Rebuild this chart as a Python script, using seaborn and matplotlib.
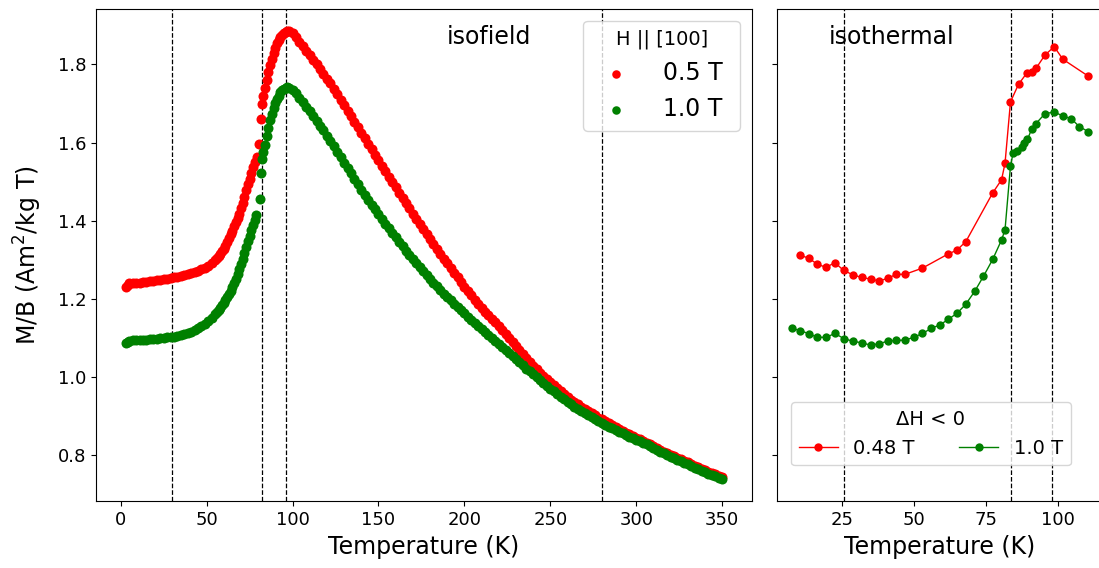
import matplotlib
matplotlib.use("Agg")
import matplotlib.pyplot as plt
import seaborn as sns
import pandas as pd

# ---------------- isofield data (left panel) ----------------
# temperatures shared by both isofield curves (low-T and high-T parts)
T_low = [3, 4, 5, 7, 9, 11, 13, 15, 17, 19, 21, 23, 25, 27, 29, 31, 33, 35, 37, 39,
         41, 43, 45, 47, 49, 51, 53]
T_high = [98, 100, 102, 104, 106, 108, 110, 112, 114, 116,
          118, 120, 122, 124, 126, 128, 130, 132, 134, 136,
          138, 140, 142, 144, 146, 148, 150, 152, 154, 156,
          158, 160, 162, 164, 166, 168, 170, 172, 174, 176,
          178, 180, 182, 184, 186, 188, 190, 192, 194, 196,
          198, 200, 202, 204, 206, 208, 210, 212, 214, 216,
          218, 220, 222, 224, 226, 228, 230, 232, 234, 236,
          238, 240, 242, 244, 246, 248, 250, 252, 254, 256,
          258, 260, 262, 264, 266, 268, 270, 272, 274, 276,
          278, 280, 282, 284, 286, 288, 290, 292, 294, 296,
          298, 300, 302, 304, 306, 308, 310, 312, 314, 316,
          318, 320, 322, 324, 326, 328, 330, 332, 334, 336,
          338, 340, 342, 344, 346, 348, 350]

# 0.5 T
M05_low = [1.231, 1.236, 1.240, 1.241, 1.242, 1.242, 1.243, 1.244, 1.245, 1.246,
           1.248, 1.249, 1.251, 1.252, 1.254, 1.256, 1.257, 1.259, 1.261, 1.263,
           1.266, 1.268, 1.272, 1.276, 1.280, 1.285, 1.291]
T05_mid = [55, 56, 57, 58, 59, 60, 61, 62, 63, 64, 65, 66, 67, 68, 69, 70, 71, 72, 73, 74,
           75, 76, 77, 78, 79.4, 80.5, 81.9, 82.1, 82.9, 84, 85, 86, 87, 88, 89, 90, 91,
           92, 93, 94, 95, 96, 97]
M05_mid = [1.300, 1.305, 1.311, 1.316, 1.322, 1.329, 1.336, 1.345, 1.355, 1.365,
           1.375, 1.386, 1.397, 1.407, 1.418, 1.432, 1.446, 1.462, 1.478, 1.493,
           1.508, 1.523, 1.538, 1.550, 1.563, 1.597, 1.660, 1.698, 1.719,
           1.740, 1.760, 1.780, 1.798, 1.814, 1.830, 1.843, 1.854, 1.863, 1.870,
           1.876, 1.880, 1.883, 1.885]
M05_high = [1.884, 1.879, 1.870, 1.858, 1.846, 1.834, 1.823, 1.812, 1.800, 1.788,
            1.776, 1.763, 1.751, 1.737, 1.723, 1.709, 1.695, 1.681, 1.667, 1.653,
            1.639, 1.625, 1.611, 1.597, 1.583, 1.569, 1.555, 1.541, 1.527, 1.513,
            1.499, 1.486, 1.472, 1.459, 1.446, 1.432, 1.418, 1.405, 1.392, 1.379,
            1.366, 1.353, 1.340, 1.327, 1.315, 1.303, 1.291, 1.279, 1.267, 1.255,
            1.243, 1.231, 1.220, 1.209, 1.198, 1.188, 1.178, 1.168, 1.159, 1.149,
            1.140, 1.130, 1.120, 1.111, 1.101, 1.091, 1.081, 1.070, 1.060, 1.049,
            1.039, 1.029, 1.020, 1.011, 1.003, 0.995, 0.988, 0.980, 0.972, 0.965,
            0.957, 0.950, 0.943, 0.937, 0.931, 0.925, 0.919, 0.914, 0.908, 0.903,
            0.897, 0.892, 0.887, 0.882, 0.877, 0.872, 0.867, 0.863, 0.858, 0.854,
            0.849, 0.845, 0.841, 0.837, 0.833, 0.828, 0.823, 0.819, 0.815, 0.810,
            0.806, 0.802, 0.798, 0.794, 0.790, 0.786, 0.782, 0.778, 0.774, 0.770,
            0.766, 0.762, 0.758, 0.755, 0.752, 0.748, 0.745]

# 1.0 T
M10_low = [1.088, 1.091, 1.093, 1.094, 1.094, 1.095, 1.095, 1.096, 1.097, 1.098,
           1.099, 1.100, 1.101, 1.102, 1.103, 1.104, 1.106, 1.108, 1.110, 1.113,
           1.116, 1.120, 1.125, 1.131, 1.137, 1.144, 1.152]
T10_mid = [55, 56, 57, 58, 59, 60, 61, 62, 63, 64, 65, 66, 67, 68, 69, 70, 71, 72, 73, 74,
           75, 76, 77, 78, 79, 81.3, 81.9, 82.3, 83, 84, 85, 86, 87, 88, 89, 90, 91,
           92, 93, 94, 95, 96, 97]
M10_mid = [1.161, 1.166, 1.172, 1.178, 1.184, 1.191, 1.198, 1.205, 1.212, 1.221,
           1.230, 1.241, 1.252, 1.264, 1.276, 1.289, 1.303, 1.318, 1.333, 1.348,
           1.362, 1.376, 1.390, 1.403, 1.416, 1.455, 1.523, 1.557,
           1.575, 1.595, 1.617, 1.638, 1.657, 1.673, 1.688, 1.700, 1.711, 1.720,
           1.728, 1.734, 1.738, 1.740, 1.741]
M10_high = [1.740, 1.735, 1.726, 1.714, 1.703, 1.691, 1.680, 1.668, 1.656, 1.643,
            1.631, 1.618, 1.605, 1.591, 1.577, 1.563, 1.549, 1.535, 1.521, 1.507,
            1.493, 1.479, 1.466, 1.454, 1.441, 1.429, 1.417, 1.405, 1.393, 1.381,
            1.369, 1.358, 1.346, 1.335, 1.324, 1.313, 1.302, 1.292, 1.281, 1.271,
            1.261, 1.251, 1.242, 1.233, 1.223, 1.214, 1.205, 1.197, 1.188, 1.179,
            1.171, 1.163, 1.155, 1.147, 1.139, 1.131, 1.123, 1.115, 1.108, 1.100,
            1.092, 1.085, 1.077, 1.070, 1.062, 1.054, 1.046, 1.038, 1.030, 1.022,
            1.015, 1.007, 1.000, 0.993, 0.985, 0.978, 0.971, 0.964, 0.957, 0.950,
            0.944, 0.937, 0.931, 0.925, 0.919, 0.914, 0.908, 0.903, 0.898, 0.893,
            0.888, 0.883, 0.879, 0.874, 0.869, 0.865, 0.861, 0.857, 0.853, 0.848,
            0.844, 0.840, 0.836, 0.832, 0.828, 0.823, 0.818, 0.814, 0.810, 0.805,
            0.801, 0.797, 0.793, 0.789, 0.785, 0.781, 0.777, 0.773, 0.769, 0.765,
            0.761, 0.757, 0.753, 0.750, 0.747, 0.743, 0.740]

# ---------------- isothermal data (right panel) ----------------
T_048_iso = [10.3, 13.4, 16.2, 19.3, 22.4, 25.4, 28.6, 31.7, 34.8, 37.8, 40.7, 43.7, 46.7,
             52.8, 61.7, 64.8, 67.9, 77.2, 80.3, 81.5, 83.4, 86.2, 89.2, 90.8, 92.3, 95.4,
             98.6, 101.6, 110.4]
M_048_iso = [1.312, 1.304, 1.289, 1.281, 1.293, 1.273, 1.262, 1.255, 1.251, 1.246, 1.253,
             1.263, 1.263, 1.279, 1.315, 1.325, 1.347, 1.471, 1.505, 1.547, 1.704, 1.749,
             1.779, 1.781, 1.790, 1.824, 1.845, 1.813, 1.770]

T_10_iso = [7.3, 10.4, 13.4, 16.3, 19.3, 22.4, 25.4, 28.6, 31.7, 34.8, 37.8, 40.7, 43.7,
            46.7, 49.8, 52.8, 55.9, 58.9, 61.8, 64.9, 67.9, 71.0, 74.0, 77.2, 80.3, 81.5,
            83.4, 84.3, 85.8, 87.3, 88.2, 89.3, 90.8, 92.2, 95.4, 98.6, 101.6, 104.5, 107.3, 110.4]
M_10_iso = [1.125, 1.119, 1.111, 1.102, 1.102, 1.112, 1.099, 1.092, 1.088, 1.082, 1.086,
            1.092, 1.094, 1.095, 1.102, 1.112, 1.125, 1.134, 1.148, 1.164, 1.187, 1.220,
            1.258, 1.301, 1.351, 1.377, 1.540, 1.573, 1.579, 1.589, 1.599, 1.608, 1.635,
            1.648, 1.674, 1.678, 1.668, 1.661, 1.641, 1.628]

vlines_left = [30, 82.2, 96.2, 280]
vlines_right = [25.5, 83.5, 97.7]
xticks_right = [25, 50, 75, 100]

# ---------------- figure ----------------
W, H = 1099, 568
fig = plt.figure(figsize=(W / 100, H / 100), dpi=100)
bottom = (H - 501.3) / H
height = (501.3 - 8.7) / H
ax1 = fig.add_axes([96.0 / W, bottom, (752.0 - 96.0) / W, height])
ax2 = fig.add_axes([776.7 / W, bottom, (1103.0 - 776.7) / W, height], sharey=ax1)

df05 = pd.DataFrame({"T": T_low + T05_mid + T_high, "M": M05_low + M05_mid + M05_high})
df10 = pd.DataFrame({"T": T_low + T10_mid + T_high, "M": M10_low + M10_mid + M10_high})
sns.scatterplot(data=df05, x="T", y="M", color="red", s=52, linewidth=0,
                label="0.5 T ", ax=ax1, zorder=2)
sns.scatterplot(data=df10, x="T", y="M", color="green", s=52, linewidth=0,
                label="1.0 T ", ax=ax1, zorder=2)
for v in vlines_left:
    ax1.axvline(v, color="black", linestyle="--", linewidth=0.9, zorder=1)

ax1.set_xlabel("Temperature (K)", fontsize=17)
ax1.set_ylabel("M/B (Am$^2$/kg T)", fontsize=17, labelpad=10)
ax1.tick_params(labelsize=13)
ax1.text(0.599, 0.943, "isofield", transform=ax1.transAxes, ha="center",
         va="center", fontsize=17)
ax1.legend(title="H || [100]", fontsize=17, title_fontsize=14, loc="upper right",
           handletextpad=1.0, markerscale=0.85)

dfi048 = pd.DataFrame({"T": T_048_iso, "M": M_048_iso})
dfi10 = pd.DataFrame({"T": T_10_iso, "M": M_10_iso})
sns.lineplot(data=dfi048, x="T", y="M", color="red", marker="o", markersize=6,
             markeredgewidth=0, linewidth=1, label="0.48 T", ax=ax2, sort=False,
             estimator=None, zorder=2)
sns.lineplot(data=dfi10, x="T", y="M", color="green", marker="o", markersize=6,
             markeredgewidth=0, linewidth=1, label="1.0 T", ax=ax2, sort=False,
             estimator=None, zorder=2)
for v in vlines_right:
    ax2.axvline(v, color="black", linestyle="--", linewidth=0.9, zorder=1)

ax2.set_xticks(xticks_right)
ax2.set_xlabel("Temperature (K)", fontsize=17)
ax2.set_ylabel("")
ax2.tick_params(labelsize=13, labelleft=False)
ax2.text(0.352, 0.943, "isothermal", transform=ax2.transAxes, ha="center",
         va="center", fontsize=17)
ax2.legend(title="ΔH < 0", ncol=2, fontsize=14, title_fontsize=14,
           loc="lower left", bbox_to_anchor=(0.014, 0.053), columnspacing=2.3)

fig.savefig("out.png", dpi=100)
